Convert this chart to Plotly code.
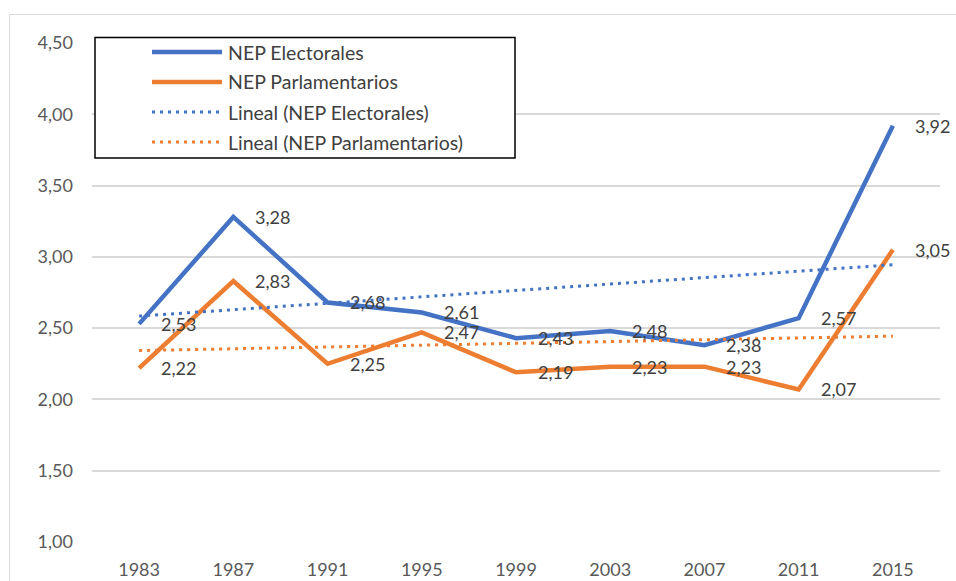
import numpy as np
import plotly.graph_objects as go

years = ["1983", "1987", "1991", "1995", "1999", "2003", "2007", "2011", "2015"]
nep_electorales = [2.53, 3.28, 2.68, 2.61, 2.43, 2.48, 2.38, 2.57, 3.92]
nep_parlamentarios = [2.22, 2.83, 2.25, 2.47, 2.19, 2.23, 2.23, 2.07, 3.05]
series_names = ["NEP Electorales", "NEP Parlamentarios",
                "Lineal (NEP Electorales)", "Lineal (NEP Parlamentarios)"]
y_ticks = [1.0, 1.5, 2.0, 2.5, 3.0, 3.5, 4.0, 4.5]

BLUE = "#4472C4"
ORANGE = "#ED7D31"
FONT = "Lato"
W, H = 956, 581
# plot area in screen pixels: x 92..940, y 43..542
SX0, SX1, SY0, SY1 = 92, 940, 43, 542
L, R, T, B = SX0, W - SX1, SY0, H - SY1
PW, PH = SX1 - SX0, SY1 - SY0


def px(xs):
    return (xs - SX0) / PW


def py(ys):
    return (SY1 - ys) / PH


def trend(vals):
    idx = np.arange(len(vals))
    slope, inter = np.polyfit(idx, vals, 1)
    return list(inter + slope * idx)


fig = go.Figure()
fig.add_trace(go.Scatter(x=years, y=nep_electorales, mode="lines",
                         line=dict(color=BLUE, width=4.5), name=series_names[0]))
fig.add_trace(go.Scatter(x=years, y=nep_parlamentarios, mode="lines",
                         line=dict(color=ORANGE, width=4.5), name=series_names[1]))
fig.add_trace(go.Scatter(x=years, y=trend(nep_electorales), mode="lines",
                         line=dict(color=BLUE, width=3, dash="3px,5px"), name=series_names[2]))
fig.add_trace(go.Scatter(x=years, y=trend(nep_parlamentarios), mode="lines",
                         line=dict(color=ORANGE, width=3, dash="3px,5px"), name=series_names[3]))

annotations = []
for vals in (nep_electorales, nep_parlamentarios):
    for i, v in enumerate(vals):
        annotations.append(dict(x=i, y=v, xref="x", yref="y", text=f"{v:.2f}".replace(".", ","),
                                showarrow=False, xanchor="left", yanchor="middle", xshift=20,
                                font=dict(family=FONT, size=18, color="#404040")))

shapes = []
# chart area border
shapes.append(dict(type="rect", xref="paper", yref="paper",
                   x0=px(9.5), x1=px(990), y0=py(620), y1=py(14.5),
                   line=dict(color="#D9D9D9", width=1), fillcolor="rgba(0,0,0,0)", layer="below"))
# legend box
shapes.append(dict(type="rect", xref="paper", yref="paper",
                   x0=px(95), x1=px(515), y0=py(158), y1=py(37.5),
                   line=dict(color="black", width=1.5), fillcolor="white", layer="above"))
rows = [52, 82, 112, 142]
styles = [(BLUE, 4.5, "solid"), (ORANGE, 4.5, "solid"),
          (BLUE, 3, "3px,5px"), (ORANGE, 3, "3px,5px")]
for yrow, (col, wdt, dsh), name in zip(rows, styles, series_names):
    shapes.append(dict(type="line", xref="paper", yref="paper",
                       x0=px(152), x1=px(222), y0=py(yrow), y1=py(yrow),
                       line=dict(color=col, width=wdt, dash=dsh), layer="above"))
    annotations.append(dict(x=px(226), y=py(yrow), xref="paper", yref="paper", text=name,
                            showarrow=False, xanchor="left", yanchor="middle",
                            font=dict(family=FONT, size=19.5, color="#404040")))

fig.update_layout(
    width=W, height=H,
    margin=dict(l=L, r=R, t=T, b=B, pad=0, autoexpand=False),
    paper_bgcolor="white", plot_bgcolor="white",
    separators=",.",
    showlegend=False,
    shapes=shapes,
    annotations=annotations,
    font=dict(family=FONT, size=18, color="#595959"),
    xaxis=dict(type="category", showgrid=False, showline=False, zeroline=False,
               ticks="", ticklabelstandoff=15, automargin=False,
               tickfont=dict(family=FONT, size=18, color="#595959"),
               range=[-0.5, len(years) - 0.5]),
    yaxis=dict(range=[1.0, 4.5], tickvals=y_ticks, tickformat=".2f",
               showgrid=True, gridcolor="#D9D9D9", gridwidth=1.5, automargin=False,
               showline=False, zeroline=False, ticks="", ticklabelstandoff=18,
               tickfont=dict(family=FONT, size=18, color="#595959")),
)

fig.write_html(
    "out.html",
    config={"displayModeBar": False},
    post_script="document.body.style.margin='0';document.body.style.overflow='hidden';"
                "document.documentElement.style.overflow='hidden';",
)
